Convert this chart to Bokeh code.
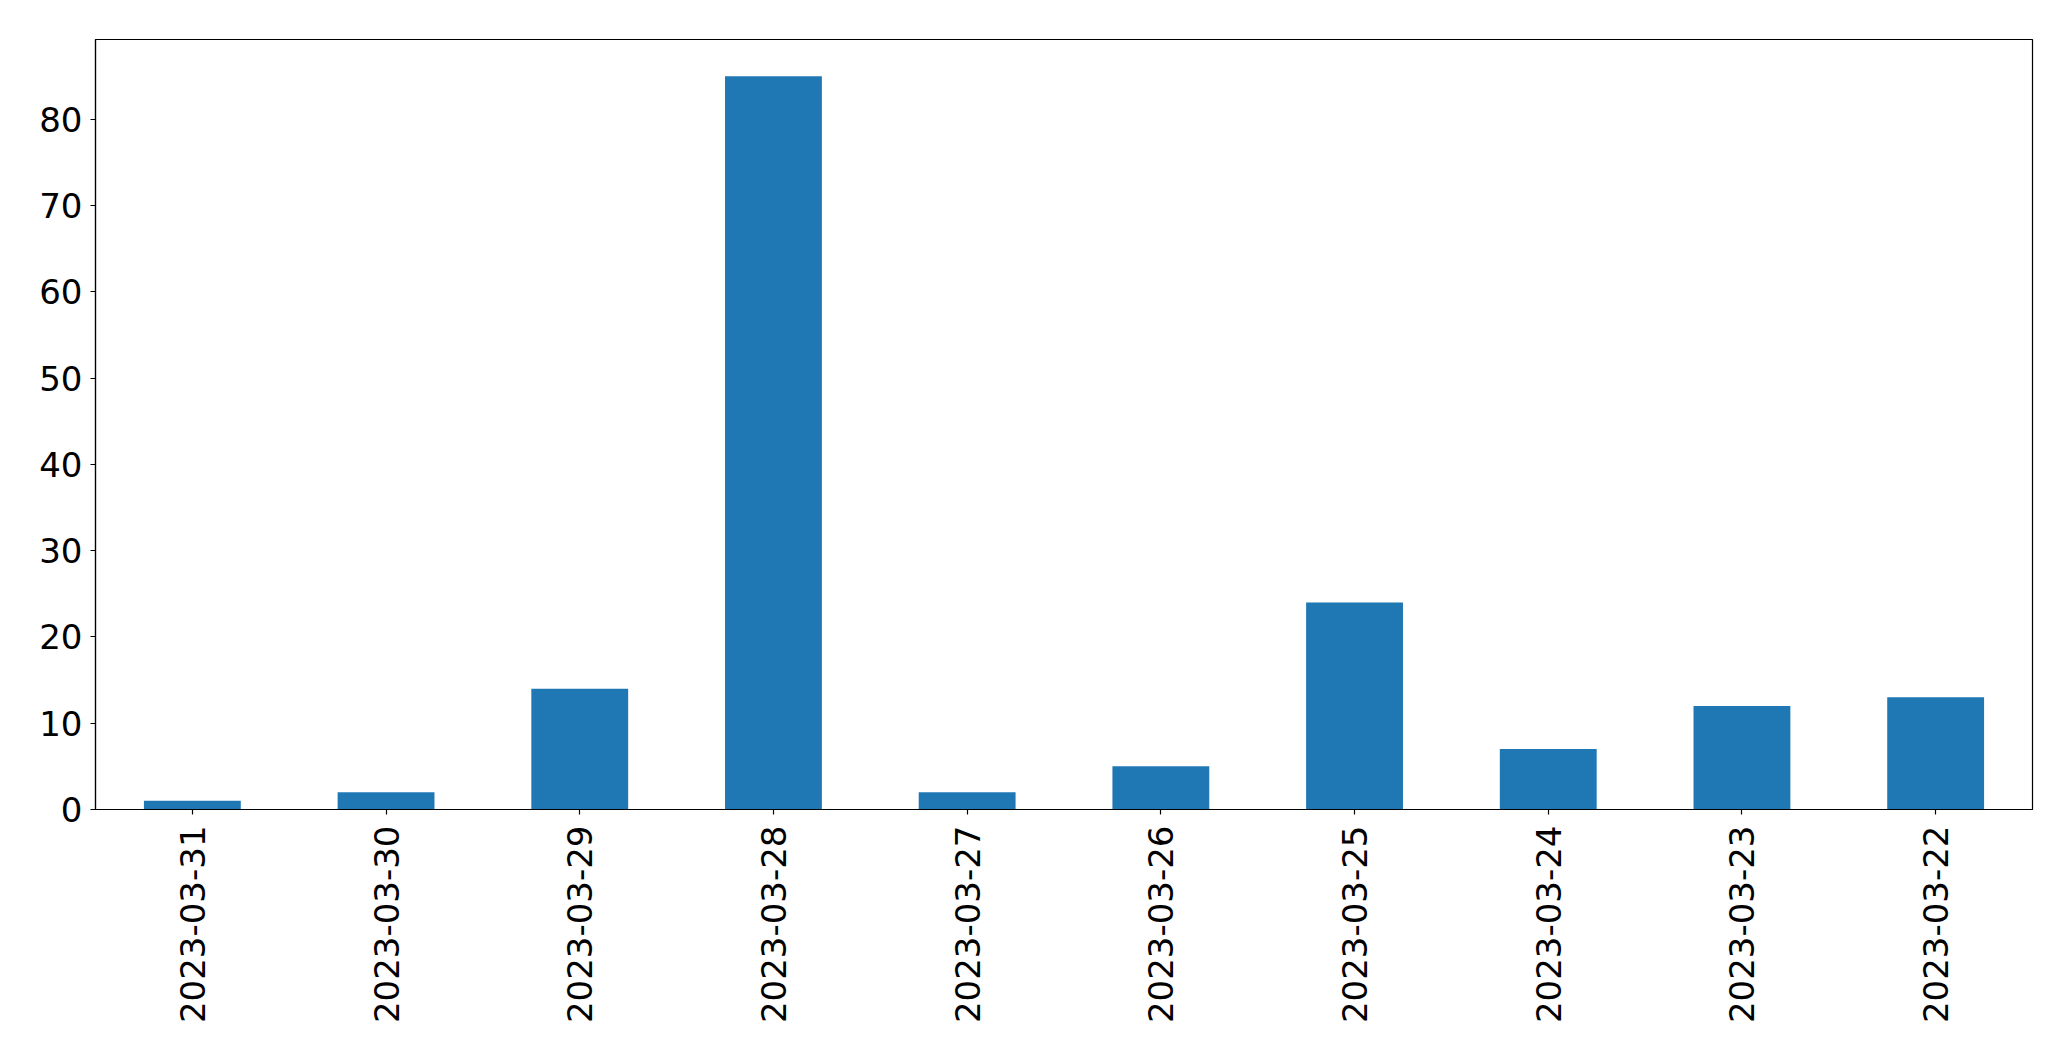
import math
from bokeh.plotting import figure
from bokeh.models import Range1d, FactorRange, FixedTicker, ColumnDataSource
from bokeh.embed import file_html
from bokeh.resources import INLINE

dates = ["2023-03-31", "2023-03-30", "2023-03-29", "2023-03-28", "2023-03-27",
         "2023-03-26", "2023-03-25", "2023-03-24", "2023-03-23", "2023-03-22"]
counts = [1, 2, 14, 85, 2, 5, 24, 7, 12, 13]
y_ticks = [0, 10, 20, 30, 40, 50, 60, 70, 80]

src = ColumnDataSource(dict(x=dates, y=counts))

p = figure(width=2055, height=1045, x_range=FactorRange(*dates),
           y_range=Range1d(0, max(counts) * 1.05),
           output_backend="svg", toolbar_location=None,
           min_border_left=95, min_border_right=23, min_border_top=39, min_border_bottom=236)

p.vbar(x="x", top="y", width=0.5, source=src, fill_color="#1f77b4", line_color=None)

p.xgrid.visible = False
p.ygrid.visible = False
p.outline_line_color = "black"
p.outline_line_width = 1.2

for ax in (p.xaxis, p.yaxis):
    ax.axis_line_color = "black"
    ax.axis_line_width = 1.2
    ax.major_tick_line_color = "black"
    ax.major_tick_line_width = 1.2
    ax.major_tick_out = 5
    ax.major_tick_in = 0
    ax.minor_tick_line_color = None
    ax.major_label_text_font = "DejaVu Sans"
    ax.major_label_text_font_size = "34px"
    ax.major_label_text_color = "black"

p.yaxis.ticker = FixedTicker(ticks=y_ticks)
p.yaxis.major_label_standoff = 8
p.xaxis.major_label_orientation = math.pi / 2
p.xaxis.major_label_standoff = 11

open("out.html", "w").write(file_html(p, INLINE))
